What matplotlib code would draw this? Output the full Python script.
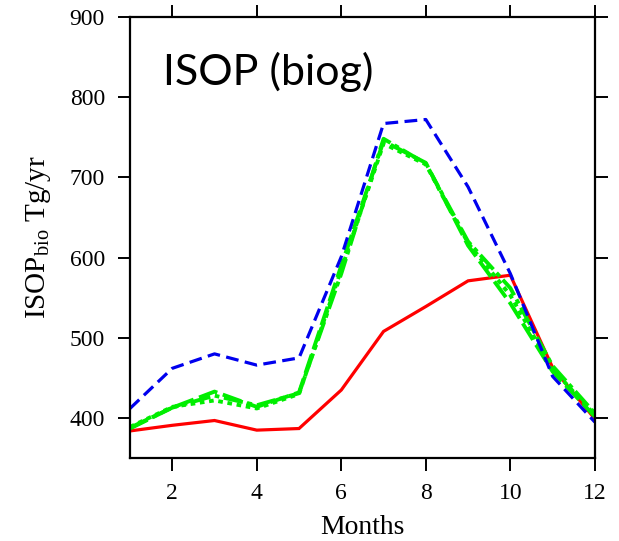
import numpy as np
import matplotlib
matplotlib.use("Agg")
import matplotlib.pyplot as plt

plt.rcParams['font.family'] = ['Liberation Serif', 'DejaVu Serif']
plt.rcParams['mathtext.fontset'] = 'custom'
plt.rcParams['mathtext.rm'] = 'Liberation Serif'
plt.rcParams['mathtext.it'] = 'Liberation Serif:italic'

months = np.arange(1, 13)

# biogenic isoprene emissions, Tg/yr
ctrl_red = [384, 391, 397, 385, 387, 435, 508, 539, 571, 578, 463, 399]
run_blue = [412, 462, 480, 466, 475, 601, 767, 772, 688, 580, 452, 395]
green_dash = [387, 413, 433, 414, 432, 590, 745, 718, 615, 543, 458, 402]
green_dot = [389, 414, 422, 412, 430, 585, 742, 716, 618, 553, 461, 404]
green_dashdot = [388, 413, 428, 416, 431, 580, 748, 717, 620, 562, 465, 406]

fig = plt.figure(figsize=(6.19, 5.41), dpi=100)
ax = fig.add_axes([0.210, 0.153, 0.751, 0.816])

ax.plot(months, ctrl_red, color='red', lw=2.3, solid_joinstyle='miter')
ax.plot(months, green_dash, color='#00ee00', lw=2.8, dashes=(5, 1.5))
ax.plot(months, green_dot, color='#00ee00', lw=2.8, dashes=(1.2, 1.2))
ax.plot(months, green_dashdot, color='#00ee00', lw=2.8, dashes=(5, 1.2, 1.2, 1.2))
ax.plot(months, run_blue, color='#0000ee', lw=2.3, dashes=(4, 2))

ax.set_xlim(1, 12)
ax.set_ylim(350, 900)
ax.set_xticks([2, 4, 6, 8, 10, 12])
ax.set_yticks([400, 500, 600, 700, 800, 900])

for s in ax.spines.values():
    s.set_linewidth(1.6)
ax.tick_params(direction='out', length=9, width=1.4, labelsize=17,
               top=True, right=True, pad=9)

ax.set_xlabel('Months', fontsize=20, labelpad=8)
ax.set_ylabel(r'ISOP$_{\mathrm{bio}}$ Tg/yr', fontsize=21, labelpad=12)

ax.text(0.07, 0.846, 'ISOP (biog)', transform=ax.transAxes,
        fontsize=31, family=['Lato', 'DejaVu Sans'], va='baseline', ha='left')

fig.savefig('out.png', dpi=100)
